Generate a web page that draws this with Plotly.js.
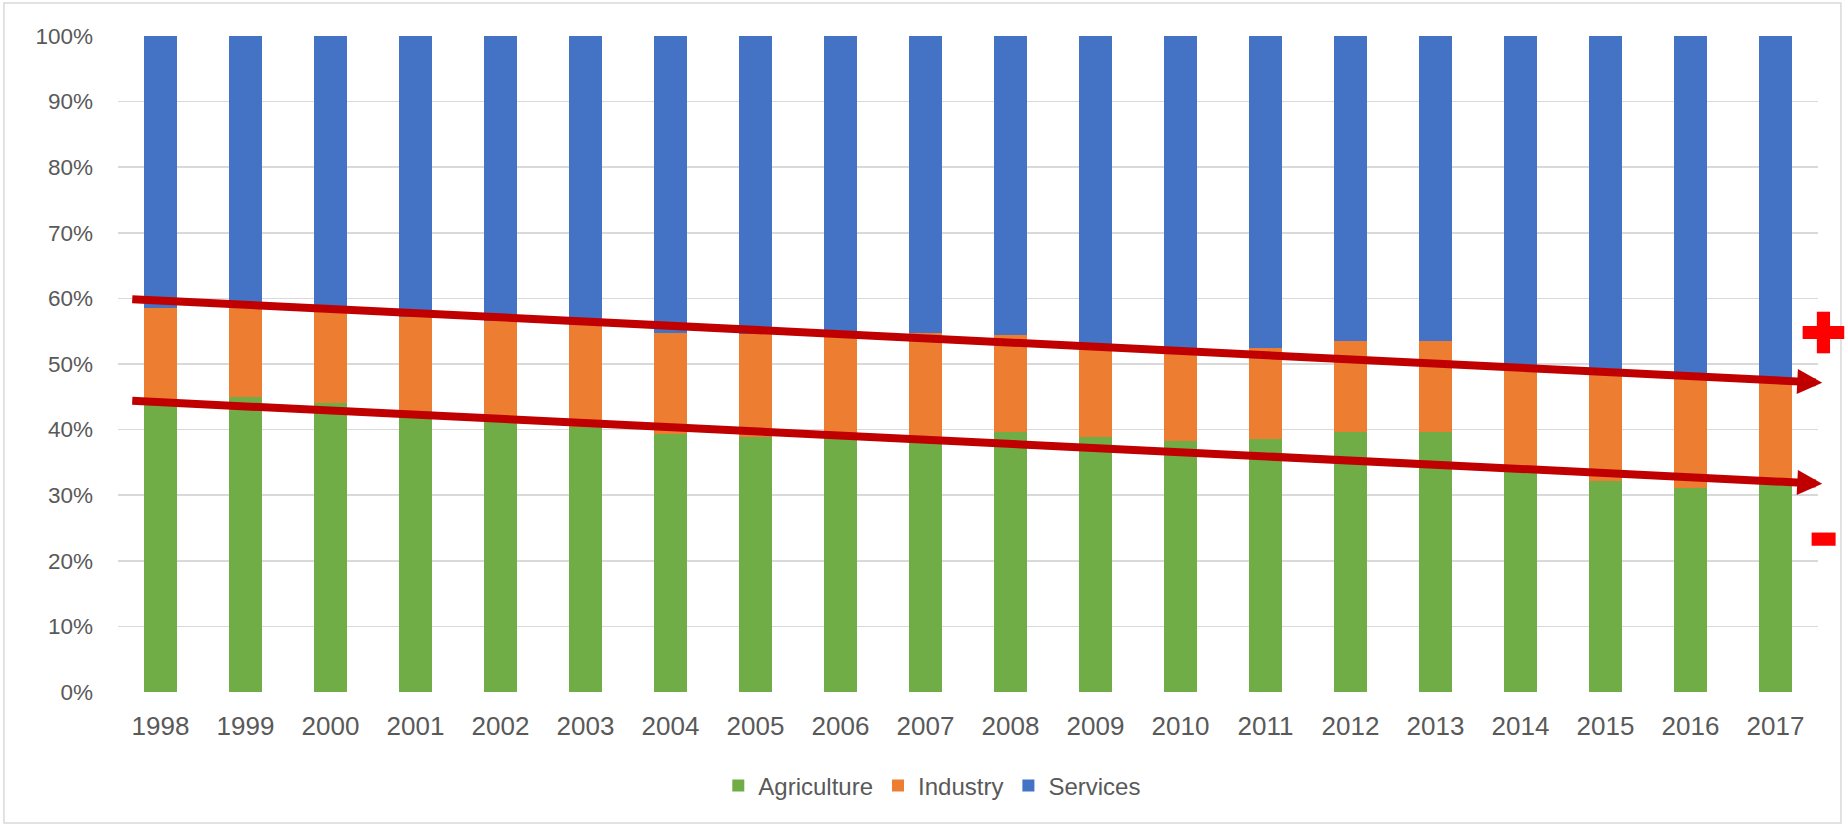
<!DOCTYPE html>
<html>
<head>
<meta charset="utf-8">
<script src="https://cdn.plot.ly/plotly-3.0.1.min.js"></script>
<style>
  html, body { margin: 0; padding: 0; background: #ffffff; }
  #chart { width: 1845px; height: 827px; }
</style>
</head>
<body>
<div id="chart"></div>
<script>
// ---- data (percent of total) ----
const years = ["1998","1999","2000","2001","2002","2003","2004","2005","2006","2007",
               "2008","2009","2010","2011","2012","2013","2014","2015","2016","2017"];
const agriculture = [43.9, 45.0, 44.0, 42.8, 41.3, 40.4, 39.4, 38.8, 38.6, 38.5,
                     39.7, 38.9, 38.2, 38.6, 39.7, 39.7, 33.8, 32.2, 31.1, 31.6];
const industry    = [14.7, 14.0, 14.0, 14.4, 15.3, 15.5, 15.4, 15.7, 15.7, 16.3,
                     14.7, 13.8, 13.9, 13.8, 13.8, 13.8, 15.8, 16.6, 17.0, 15.8];
const services    = [41.4, 41.0, 42.0, 42.8, 43.4, 44.1, 45.2, 45.5, 45.7, 45.2,
                     45.6, 47.3, 47.9, 47.6, 46.5, 46.5, 50.4, 51.2, 51.9, 52.6];
const yTicks = [0, 10, 20, 30, 40, 50, 60, 70, 80, 90, 100];

// trend arrows drawn on top: [tail index, tail %, head index, head %]
const upperTrend = [-0.35, 59.9, 19.55, 47.15];
const lowerTrend = [-0.35, 44.4, 19.55, 31.75];

const traces = [
  { type: 'bar', name: 'Agriculture', x: years, y: agriculture, marker: { color: '#70AD47' } },
  { type: 'bar', name: 'Industry',    x: years, y: industry,    marker: { color: '#ED7D31' } },
  { type: 'bar', name: 'Services',    x: years, y: services,    marker: { color: '#4472C4' } }
];

function arrow(t) {
  return {
    xref: 'x', yref: 'y', axref: 'x', ayref: 'y',
    x: t[2], y: t[3], ax: t[0], ay: t[1],
    text: '', showarrow: true,
    arrowhead: 2, arrowsize: 0.625, arrowwidth: 8, arrowcolor: '#C00000',
    standoff: 0, startstandoff: 0
  };
}

const layout = {
  width: 1845, height: 827, autosize: false,
  margin: { l: 118, r: 27, t: 36, b: 135, pad: 0 },
  paper_bgcolor: '#ffffff', plot_bgcolor: '#ffffff',
  barmode: 'stack', bargap: 0.61,
  font: { family: 'Liberation Sans, Arial, sans-serif', color: '#595959' },
  showlegend: true,
  legend: {
    orientation: 'h', traceorder: 'normal',
    x: 0.479, xanchor: 'center', y: -0.143, yanchor: 'middle',
    font: { size: 24, color: '#595959' }
  },
  xaxis: {
    type: 'category', range: [-0.5, 19.5], autorange: false,
    showgrid: false, zeroline: false, showline: false,
    ticks: '', tickfont: { size: 26, color: '#595959' }, ticklabelstandoff: 16,
    fixedrange: true
  },
  yaxis: {
    range: [0, 100], autorange: false, tickvals: yTicks, ticktext: yTicks.map(v => v + '%'),
    showgrid: true, gridcolor: '#D9D9D9', gridwidth: 1.5,
    zeroline: false, showline: false, ticks: '',
    tickfont: { size: 22.5, color: '#595959' }, ticklabelstandoff: 24,
    fixedrange: true
  },
  annotations: [arrow(upperTrend), arrow(lowerTrend)],
  shapes: [
    // chart border
    { type: 'rect', xref: 'paper', yref: 'paper',
      x0: -0.0671, x1: 1.0135, y0: -0.1997, y1: 1.0503,
      line: { color: '#D9D9D9', width: 1.5 }, fillcolor: 'rgba(0,0,0,0)', layer: 'below' },
    // plus sign
    { type: 'rect', xref: 'paper', yref: 'y', xsizemode: 'pixel', ysizemode: 'pixel',
      xanchor: 1.0032, yanchor: 54.8, x0: -20.8, x1: 20.8, y0: -6.6, y1: 6.6,
      fillcolor: '#FF0000', line: { width: 0 } },
    { type: 'rect', xref: 'paper', yref: 'y', xsizemode: 'pixel', ysizemode: 'pixel',
      xanchor: 1.0032, yanchor: 54.8, x0: -6.6, x1: 6.6, y0: -20.8, y1: 20.8,
      fillcolor: '#FF0000', line: { width: 0 } },
    // minus sign
    { type: 'rect', xref: 'paper', yref: 'y', xsizemode: 'pixel', ysizemode: 'pixel',
      xanchor: 1.0033, yanchor: 23.3, x0: -12, x1: 12, y0: -6.6, y1: 6.6,
      fillcolor: '#FF0000', line: { width: 0 } }
  ]
};

Plotly.newPlot('chart', traces, layout, { displayModeBar: false, staticPlot: true });
</script>
</body>
</html>
